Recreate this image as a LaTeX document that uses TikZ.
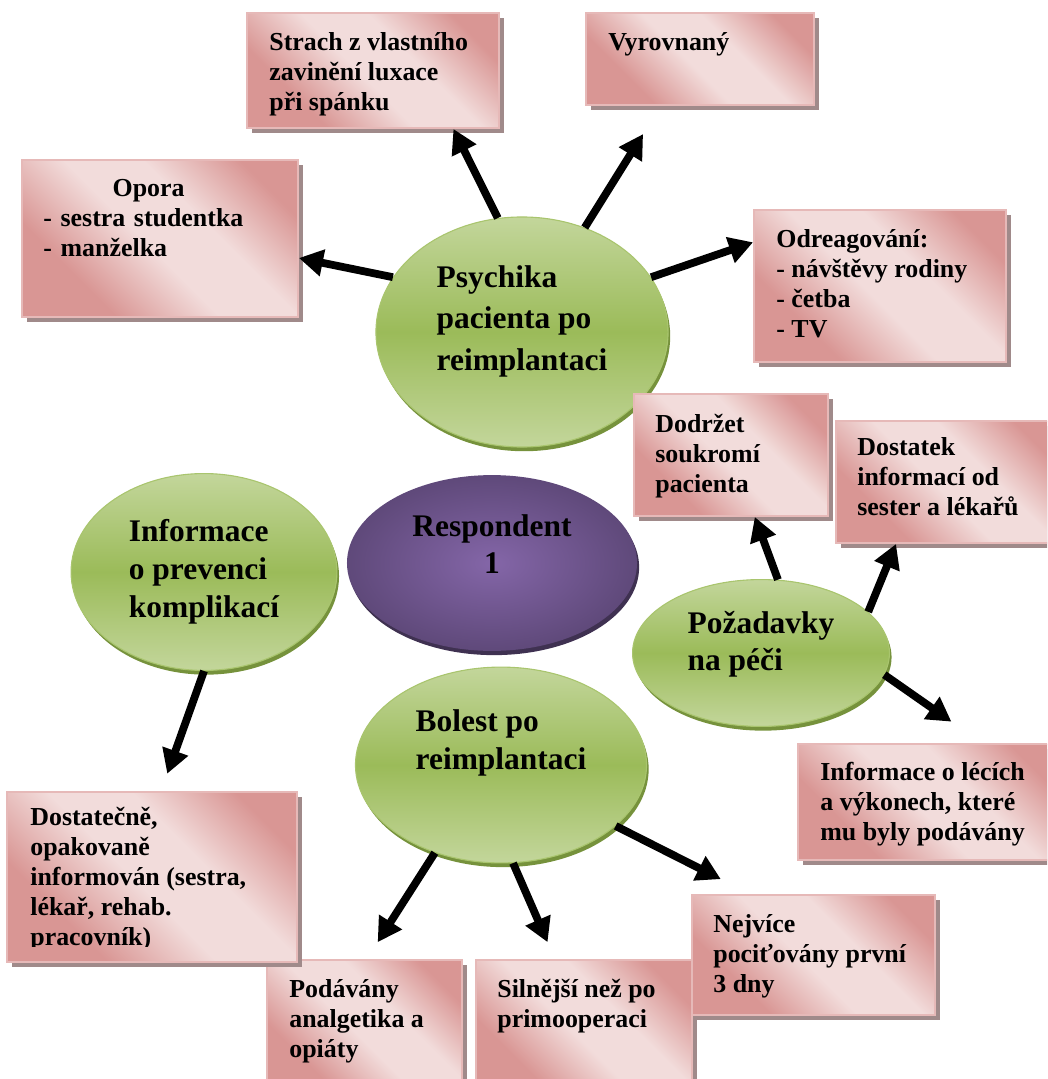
\documentclass[tikz,border=0pt]{standalone}
\usepackage{fontspec}
\setmainfont{Liberation Serif}
\usepackage{tikz}
\usetikzlibrary{arrows.meta,positioning,fit,shadows,shapes.geometric}
\definecolor{pinklt}{HTML}{F2DCDB}
\definecolor{pinkdk}{HTML}{D99694}
\definecolor{pinkedge}{HTML}{E6B9B8}
\definecolor{shadowc}{HTML}{A08A8A}
\definecolor{greenlt}{HTML}{C3D69B}
\definecolor{greendk}{HTML}{9BBB59}
\definecolor{greenedge}{HTML}{A9C56E}
\definecolor{greenrim}{HTML}{76923C}
\definecolor{purplelt}{HTML}{8466A8}
\definecolor{purpledk}{HTML}{5F497A}
\definecolor{purplerim}{HTML}{3F3151}
\pgfdeclarehorizontalshading{pinkband}{100bp}{color(0bp)=(pinkdk); color(30bp)=(pinkdk);
  color(47bp)=(pinklt); color(60bp)=(pinklt); color(76bp)=(pinkdk); color(100bp)=(pinkdk)}

\begin{document}
\begin{tikzpicture}[x=0.019cm, y=-0.019cm,
  box/.style={draw=pinkedge, line width=1pt, shading=pinkband, shading angle=45,
              inner sep=0pt,
              drop shadow={shadow xshift=0.1cm, shadow yshift=-0.1cm, opacity=1, fill=shadowc}},
  btxt/.style={anchor=north west, align=left, inner sep=0pt,
               font=\fontsize{14pt}{16.2pt}\selectfont\bfseries},
  topic/.style={ellipse, draw=greenedge, line width=0.6pt, top color=greenlt,
                bottom color=greenlt, middle color=greendk, inner sep=0pt, align=left,
                font=\fontsize{17pt}{20.5pt}\selectfont\bfseries,
                drop shadow={shadow xshift=0.04cm, shadow yshift=-0.08cm, opacity=1, fill=greenrim}},
  arr/.style={-{Triangle[length=13pt,width=14pt]}, line width=4.2pt, color=black}]
\clip (0,0) rectangle (1047,1079);

% centre and topics
\node[ellipse, inner color=purplelt, outer color=purpledk, minimum width=5.51cm,
  minimum height=3.34cm, inner sep=0pt, align=center, text depth=0.72cm,
  font=\fontsize{17pt}{20.5pt}\selectfont\bfseries,
  drop shadow={shadow xshift=0.04cm, shadow yshift=-0.08cm, opacity=1, fill=purplerim}]
  (resp) at (492,563) {Respondent\\1};
\node[topic, minimum width=5.55cm, minimum height=4.37cm, text depth=0.53cm,
  font=\fontsize{17pt}{22.5pt}\selectfont\bfseries]
  (psy) at (522,332) {Psychika\\pacienta po\\reimplantaci};
\node[topic, minimum width=5.05cm, minimum height=3.74cm]
  (prev) at (204,572) {Informace\\o prevenci\\komplikací};
\node[topic, minimum width=4.88cm, minimum height=2.79cm, text depth=0.46cm]
  (poz) at (761,653) {Požadavky\\na péči};
\node[topic, minimum width=5.53cm, minimum height=3.72cm, text depth=0.97cm]
  (bol) at (501,765) {Bolest po\\reimplantaci};

% boxes
\node[box, fit={(476,960) (692,1095)}] (siln) {};
\node[btxt] (siln-t) at (497,979) {Silnější než po\\primooperaci};
\node[box, fit={(692,895) (935,1015)}] (nejv) {};
\node[btxt] (nejv-t) at (713,914) {Nejvíce\\pociťovány první\\3 dny};
\node[box, fit={(267,960) (462,1095)}] (poda) {};
\node[btxt] (poda-t) at (289,979) {Podávány\\analgetika a\\opiáty};
\node[box, fit={(7,792) (297,962)}] (dost) {};
\begin{scope}
  \clip (dost.north west) rectangle ([yshift=0.32cm]dost.south east);
  \node[btxt] (dost-t) at (30,807)
    {Dostatečně,\\opakovaně\\informován (sestra,\\lékař, rehab.\\pracovník)};
\end{scope}
\node[box, fit={(247,13) (499,128)}] (strach) {};
\node[btxt] (strach-t) at (269,32) {Strach z vlastního\\zavinění luxace\\při spánku};
\node[box, fit={(586,13) (814,105)}] (vyr) {};
\node[btxt] (vyr-t) at (608,32) {Vyrovnaný};
\node[box, fit={(22,160) (298,317)}] (opora) {};
\node[btxt, text width=4cm] (opora-t) at (43,179)
  {\makebox[\linewidth]{Opora}\\- sestra studentka\\- manželka};
\node[box, fit={(754,210) (1006,362)}] (odre) {};
\node[btxt] (odre-t) at (776,229) {Odreagování:\\- návštěvy rodiny\\- četba\\- TV};
\node[box, fit={(634,394) (828,516)}] (dodr) {};
\node[btxt] (dodr-t) at (655,414) {Dodržet\\soukromí\\pacienta};
\node[box, fit={(836,421) (1060,543)}] (dsta) {};
\node[btxt] (dsta-t) at (857,437) {Dostatek\\informací od\\sester a lékařů};
\node[box, fit={(798,744) (1060,860)}] (leky) {};
\node[btxt] (leky-t) at (820,762) {Informace o lécích\\a výkonech, které\\mu byly podávány};

% arrows
\draw[arr] (psy.157) -- (opora.-8);
\draw[arr] (psy.102) -- (strach.-36);
\draw[arr, shorten >=0.63cm] (psy.59) -- (vyr.-130);
\draw[arr] (psy.23) -- (odre.161);
\draw[arr, shorten >=0.35cm] (prev.-90) -- (dost.84);
\draw[arr] (poz.77) -- (dodr.-69);
\draw[arr] (poz.21) -- (dsta.-130);
\draw[arr, shorten >=0.71cm] (poz.-10) -- (leky.48);
\draw[arr, shorten >=0.38cm] (bol.-127) -- (poda.88);
\draw[arr, shorten >=0.35cm] (bol.-83) -- (siln.113);
\draw[arr, shorten >=0.63cm] (bol.-28) -- (nejv.136);
\end{tikzpicture}
\end{document}
